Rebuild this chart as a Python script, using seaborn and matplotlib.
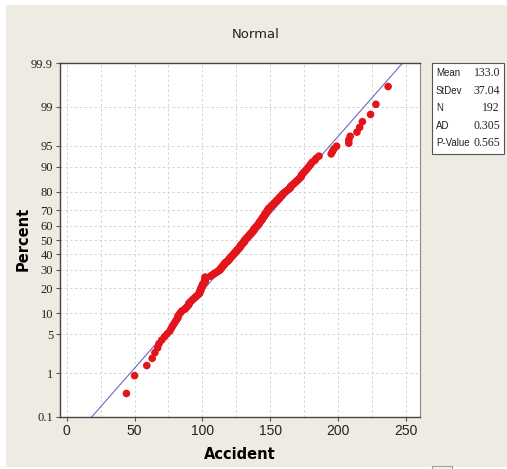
import matplotlib
matplotlib.use("Agg")
import matplotlib.pyplot as plt
from matplotlib.patches import Rectangle
import seaborn as sns
import pandas as pd
import numpy as np
from statistics import NormalDist

# ---- data (sorted) ----
accident = [
    44, 50, 59, 63, 65, 67, 68, 70, 72, 74,
    76, 77, 78, 79, 80, 81, 82, 82, 83, 84,
    85, 87, 88, 89, 90, 90, 91, 92, 93, 94,
    95, 96, 97, 98, 98, 98, 99, 99, 99, 100,
    100, 100, 101, 101, 102, 102, 102, 102, 102, 102,
    106, 107, 108, 109, 110, 111, 112, 113, 113, 114,
    114, 115, 115, 116, 116, 117, 117, 118, 119, 119,
    120, 120, 121, 121, 122, 122, 123, 123, 124, 124,
    125, 125, 126, 126, 127, 127, 128, 128, 128, 129,
    129, 130, 130, 131, 131, 131, 132, 132, 133, 133,
    134, 134, 135, 135, 136, 136, 137, 137, 138, 138,
    138, 139, 139, 140, 140, 141, 141, 142, 142, 142,
    143, 143, 144, 144, 144, 145, 145, 146, 146, 146,
    147, 147, 148, 148, 148, 149, 149, 150, 151, 151,
    152, 153, 153, 154, 155, 155, 156, 157, 157, 158,
    159, 159, 160, 161, 162, 163, 164, 165, 165, 166,
    167, 168, 169, 170, 171, 172, 173, 173, 174, 175,
    176, 177, 178, 179, 180, 181, 183, 184, 186, 195,
    196, 197, 199, 208, 208, 209, 214, 216, 218, 224,
    228, 237,
]
mean_val = 133.0
stdev_val = 37.04
n_val = 192
ad_val = 0.305
p_val = 0.565

pct_ticks = [0.1, 1, 5, 10, 20, 30, 40, 50, 60, 70, 80, 90, 95, 99, 99.9]
pct_labels = ["0.1", "1", "5", "10", "20", "30", "40", "50", "60", "70", "80", "90", "95", "99", "99.9"]
x_ticks = [0, 50, 100, 150, 200, 250]

# ---- normal probability scale ----
nd = NormalDist()
n = len(accident)
ranks = np.arange(1, n + 1)
z = [nd.inv_cdf((r - 0.3) / (n + 0.4)) for r in ranks]
df = pd.DataFrame({"Accident": accident, "z": z})

W, H = 507, 469
fig = plt.figure(figsize=(W / 100, H / 100), dpi=100)
fig.patch.set_facecolor("#EEEBE2")
for (x0, y0, w, h) in [(0, 0, 6 / W, 1), (0, 1 - 5 / H, 1, 5 / H), (0, 0, 1, 2 / H)]:
    fig.patches.append(Rectangle((x0, y0), w, h, transform=fig.transFigure,
                                 facecolor="white", edgecolor="none", zorder=-5))
fig.patches.append(Rectangle((432 / W, -0.01), 20 / W, 3 / H + 0.01,
                             transform=fig.transFigure, facecolor="#F4F2EC",
                             edgecolor="#A0A0A0", lw=0.8, zorder=1))

ax = fig.add_axes([60 / W, (H - 416.7) / H, 360 / W, 353.4 / H])
ax.set_facecolor("white")

zmax = nd.inv_cdf(0.999)
ax.set_xlim(-5, 260.5)
ax.set_ylim(-zmax, zmax)

# grid
gcol = "#D4D4D4"
for xv in range(0, 275, 25):
    ax.axvline(xv, color=gcol, lw=0.7, ls=(0, (2.5, 2.5)), zorder=0)
for p in pct_ticks[1:-1]:
    ax.axhline(nd.inv_cdf(p / 100), color=gcol, lw=0.7, ls=(0, (2.5, 2.5)), zorder=0)

# fitted line
zl = np.array([-zmax, zmax])
ax.plot(mean_val + stdev_val * zl, zl, color="#6A6ABF", lw=0.8, zorder=2)

sns.scatterplot(data=df, x="Accident", y="z", ax=ax, color="#E3141A",
                s=30, edgecolor="none", linewidth=0, zorder=3, legend=False)

serif = ["Liberation Serif", "DejaVu Serif"]
sans = ["Liberation Sans", "DejaVu Sans"]
ax.set_yticks([nd.inv_cdf(p / 100) for p in pct_ticks])
ax.set_yticklabels(pct_labels, family=serif, fontsize=9, color="#222222")
ax.set_xticks(x_ticks)
ax.set_xticklabels([str(v) for v in x_ticks], family=sans, fontsize=10, color="#222222")
ax.tick_params(axis="both", direction="out", length=3, width=0.8, color="#555555", pad=2)

for s in ["left", "bottom", "top"]:
    ax.spines[s].set_color("#444444")
    ax.spines[s].set_linewidth(1.0)
ax.spines["right"].set_color("#888888")
ax.spines["right"].set_linewidth(0.8)

ax.set_xlabel("Accident", fontsize=10.5, fontweight="bold", family=["DejaVu Sans"])
ax.xaxis.set_label_coords((240 - 60) / 360, -(454 - 416.7) / 353.4)
ax.xaxis.label.set_va("center")
ax.set_ylabel("Percent", fontsize=10.5, fontweight="bold", family=["DejaVu Sans"])
ax.yaxis.set_label_coords(-(60 - 23) / 360, (416.7 - 239) / 353.4)
ax.yaxis.label.set_va("center")

fig.text(256 / W, 1 - 34 / H, "Normal", ha="center", va="center",
         fontsize=9.5, family=["DejaVu Sans"], color="#222222")

# stats box
box = Rectangle((432 / W, 1 - 154 / H), 72 / W, 91 / H, transform=fig.transFigure,
                facecolor="white", edgecolor="#555555", lw=0.8, zorder=2)
fig.patches.append(box)
rows = [("Mean", f"{mean_val:.1f}"), ("StDev", f"{stdev_val:.2f}"), ("N", f"{n_val}"),
        ("AD", f"{ad_val:.3f}"), ("P-Value", f"{p_val:.3f}")]
for i, (k, v) in enumerate(rows):
    yy = 1 - (73 + i * 17.6) / H
    fig.text(436 / W, yy, k, ha="left", va="center", fontsize=7, family=sans, color="#222222")
    fig.text(500 / W, yy, v, ha="right", va="center", fontsize=8.5, family=serif, color="#222222")

fig.savefig("out.png", dpi=100)
